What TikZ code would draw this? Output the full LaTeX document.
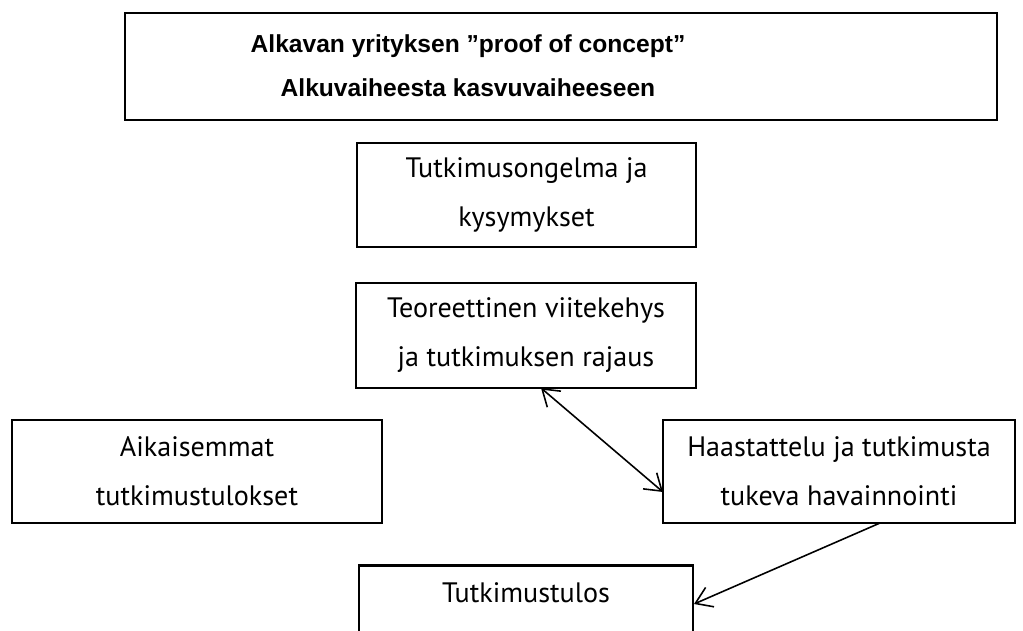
\documentclass[tikz,border=0pt]{standalone}
\usepackage{fontspec}
\setmainfont{PT Sans}
\newfontfamily\titlefont{Liberation Sans}
\usetikzlibrary{arrows.meta}

\tikzset{
	box/.style={draw, line width=1.2pt, align=center, inner sep=0pt,
		font=\fontsize{16pt}{27.9pt}\selectfont},
	tip/.tip={Straight Barb[length=9pt,width=12pt]},
	arrow/.style={line width=0.9pt},
}

\begin{document}
\begin{tikzpicture}[x=0.02cm, y=-0.02cm]

	\useasboundingbox (0,0) rectangle (1023,630);

	% otsikko
	\draw[line width=1.2pt] (125,13) rectangle (997,120);
	\node[font=\titlefont\bfseries\fontsize{14pt}{25pt}\selectfont, align=center] (otsikko) at (468,66)
		{Alkavan yrityksen ”proof of concept”\\Alkuvaiheesta kasvuvaiheeseen};

	\node[box, minimum width=6.78cm, minimum height=2.08cm] (ongelma) at (526.5,195)
		{Tutkimusongelma ja\\kysymykset};
	\node[box, minimum width=6.8cm, minimum height=2.1cm] (teoria) at (526,335.5)
		{Teoreettinen viitekehys\\ja tutkimuksen rajaus};
	\node[box, minimum width=7.4cm, minimum height=2.06cm] (aiemmat) at (197,471.5)
		{Aikaisemmat\\tutkimustulokset};
	\node[box, minimum width=7.04cm, minimum height=2.06cm] (haastattelu) at (839,471.5)
		{Haastattelu ja tutkimusta\\tukeva havainnointi};
	\node[box, minimum width=6.68cm, minimum height=2.06cm] (tulos) at (526,617)
		{Tutkimustulos\\\mbox{}};

	\coordinate (t1) at (541,388);
	\coordinate (h1) at (663,492);
	\coordinate (h2) at (880,523);
	\coordinate (r1) at (694,604);

	\draw[arrow, {tip}-{tip}] (t1) -- (h1);
	\draw[arrow, -{tip}] (h2) -- (r1);

\end{tikzpicture}
\end{document}
